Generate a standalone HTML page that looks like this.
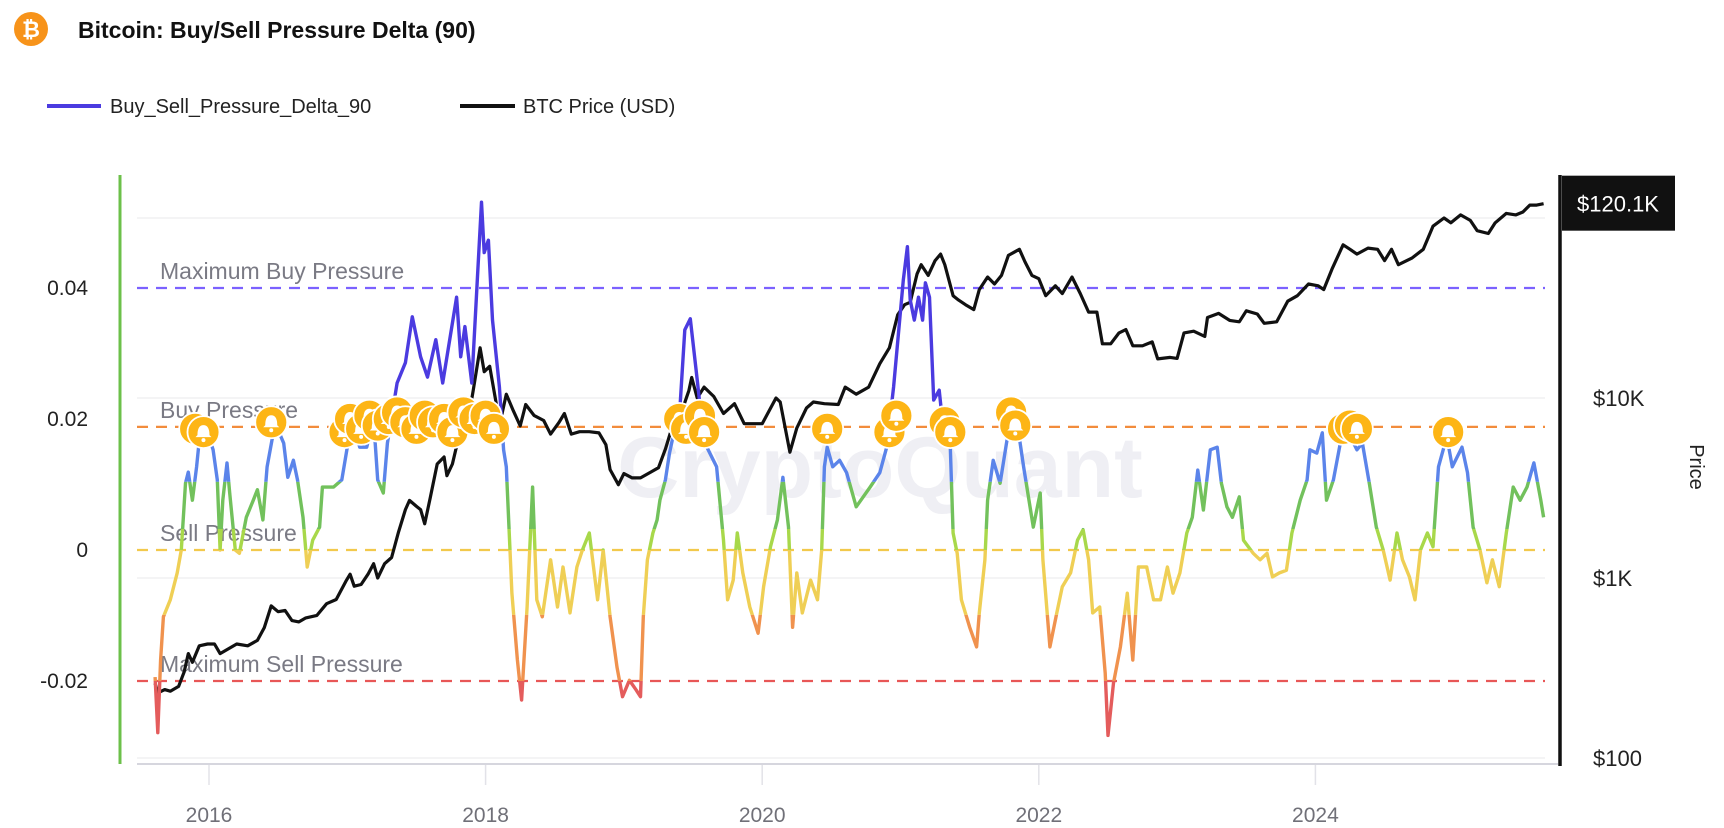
<!DOCTYPE html>
<html><head><meta charset="utf-8">
<style>
body{margin:0;background:#fff;width:1724px;height:828px;overflow:hidden;font-family:"Liberation Sans",sans-serif}
svg{display:block}
</style></head>
<body>
<svg id="chart" width="1724" height="828" viewBox="0 0 1724 828" xmlns="http://www.w3.org/2000/svg">
  <g>
    <circle cx="31" cy="29" r="17" fill="#F7931A"/>
    <text x="31" y="37" text-anchor="middle" font-size="22" font-weight="bold" fill="#fff" font-family="Liberation Sans, DejaVu Sans, sans-serif">₿</text>
    <text x="78" y="38" font-size="23" font-weight="bold" fill="#111">Bitcoin: Buy/Sell Pressure Delta (90)</text>
  </g>
  <g>
    <g>
      <line x1="47" y1="106" x2="101" y2="106" stroke="#4B3BE0" stroke-width="4"/>
      <text x="110" y="113" font-size="20" fill="#222">Buy_Sell_Pressure_Delta_90</text>
    </g>
    <g>
      <line x1="460" y1="106" x2="515" y2="106" stroke="#111" stroke-width="4"/>
      <text x="523" y="113" font-size="20" fill="#222">BTC Price (USD)</text>
    </g>
  </g>
  <text x="880" y="497" text-anchor="middle" font-size="86" font-weight="bold" fill="#efeff4">CryptoQuant</text>
  <g id="grid"></g>
  <g id="refs"></g>
  <g id="series"></g>
  <g id="markers"></g>
  <g id="axes"></g>
</svg>
<script>
// ---- data ----
const deltaDates = [2015.61,2015.63,2015.65,2015.67,2015.72,2015.77,2015.80,2015.83,2015.85,2015.88,2015.91,2015.93,2015.99,2016.03,2016.06,2016.08,2016.10,2016.13,2016.15,2016.19,2016.22,2016.27,2016.32,2016.35,2016.39,2016.42,2016.46,2016.49,2016.54,2016.57,2016.61,2016.64,2016.68,2016.71,2016.75,2016.80,2016.82,2016.90,2016.96,2017.00,2017.04,2017.09,2017.14,2017.19,2017.22,2017.26,2017.29,2017.36,2017.42,2017.47,2017.53,2017.58,2017.64,2017.69,2017.79,2017.82,2017.85,2017.90,2017.94,2017.97,2017.99,2018.02,2018.05,2018.10,2018.13,2018.15,2018.19,2018.23,2018.26,2018.30,2018.34,2018.37,2018.41,2018.47,2018.52,2018.56,2018.61,2018.66,2018.70,2018.75,2018.81,2018.85,2018.90,2018.95,2018.99,2019.04,2019.09,2019.12,2019.14,2019.17,2019.21,2019.24,2019.26,2019.30,2019.33,2019.35,2019.40,2019.44,2019.48,2019.53,2019.57,2019.60,2019.67,2019.72,2019.75,2019.79,2019.82,2019.86,2019.91,2019.97,2020.01,2020.06,2020.11,2020.15,2020.19,2020.22,2020.25,2020.29,2020.35,2020.40,2020.43,2020.45,2020.47,2020.51,2020.56,2020.61,2020.68,2020.78,2020.85,2020.90,2020.95,2021.02,2021.05,2021.07,2021.10,2021.13,2021.16,2021.18,2021.21,2021.24,2021.28,2021.31,2021.36,2021.38,2021.41,2021.44,2021.50,2021.55,2021.57,2021.61,2021.63,2021.67,2021.72,2021.77,2021.84,2021.89,2021.96,2022.01,2022.03,2022.08,2022.13,2022.17,2022.23,2022.28,2022.32,2022.36,2022.39,2022.44,2022.48,2022.50,2022.54,2022.59,2022.64,2022.68,2022.72,2022.78,2022.83,2022.88,2022.93,2022.97,2023.02,2023.07,2023.11,2023.15,2023.19,2023.24,2023.29,2023.32,2023.36,2023.40,2023.45,2023.48,2023.55,2023.60,2023.65,2023.69,2023.74,2023.79,2023.83,2023.89,2023.94,2023.96,2024.01,2024.05,2024.08,2024.13,2024.18,2024.23,2024.30,2024.34,2024.39,2024.44,2024.49,2024.54,2024.59,2024.63,2024.68,2024.72,2024.76,2024.81,2024.85,2024.89,2024.95,2024.99,2025.06,2025.10,2025.14,2025.19,2025.24,2025.28,2025.33,2025.38,2025.43,2025.48,2025.53,2025.58,2025.63,2025.65];
const deltaValues = [-0.0194,-0.0279,-0.0168,-0.0102,-0.0076,-0.0035,0,0.0102,0.0119,0.0076,0.0127,0.0168,0.0179,0.0153,0.0107,0,0.0076,0.0133,0.0087,0,-0.0005,0.0050,0.0076,0.0092,0.0046,0.0127,0.0173,0.0188,0.0163,0.0111,0.0137,0.0107,0.0050,-0.0026,0.0015,0.0035,0.0096,0.0096,0.0107,0.0157,0.0199,0.0157,0.0157,0.0199,0.0107,0.0087,0.0163,0.0255,0.0286,0.0356,0.0295,0.0264,0.0321,0.0255,0.0386,0.0295,0.0341,0.0255,0.0412,0.0531,0.0454,0.0473,0.0351,0.0249,0.0153,0.0127,-0.0066,-0.0168,-0.0229,-0.0087,0.0096,-0.0076,-0.0102,-0.0015,-0.0087,-0.0026,-0.0096,-0.0026,0,0.0026,-0.0076,0,-0.0102,-0.0179,-0.0224,-0.0199,-0.0214,-0.0224,-0.0102,-0.0015,0.0026,0.0046,0.0076,0.0107,0.0148,0.0168,0.0199,0.0336,0.0353,0.0260,0.0183,0.0157,0.0127,0.0015,-0.0076,-0.0046,0.0026,-0.0035,-0.0087,-0.0127,-0.0056,0.0005,0.0046,0.0111,0.0035,-0.0118,-0.0035,-0.0096,-0.0046,-0.0076,0,0.0127,0.0157,0.0127,0.0137,0.0118,0.0066,0.0096,0.0118,0.0157,0.0249,0.0412,0.0463,0.0382,0.0351,0.0386,0.0351,0.0408,0.0386,0.0229,0.0244,0.0183,0.0157,0.0026,-0.0005,-0.0076,-0.0118,-0.0148,-0.0096,-0.0015,0.0076,0.0137,0.0102,0.0168,0.0199,0.0127,0.0035,0.0087,-0.0015,-0.0148,-0.0096,-0.0056,-0.0035,0.0015,0.0031,-0.0015,-0.0096,-0.0087,-0.0188,-0.0283,-0.0203,-0.0148,-0.0066,-0.0168,-0.0026,-0.0026,-0.0076,-0.0076,-0.0026,-0.0066,-0.0035,0.0026,0.0050,0.0122,0.0061,0.0153,0.0157,0.0102,0.0066,0.0050,0.0081,0.0015,-0.0005,-0.0015,-0.0005,-0.0041,-0.0035,-0.0031,0.0026,0.0076,0.0107,0.0153,0.0148,0.0179,0.0076,0.0107,0.0163,0.0183,0.0153,0.0163,0.0102,0.0035,0,-0.0046,0.0026,-0.0015,-0.0041,-0.0076,0,0.0026,0.0005,0.0127,0.0173,0.0127,0.0157,0.0118,0.0035,0,-0.0050,-0.0015,-0.0056,0.0026,0.0096,0.0076,0.0096,0.0133,0.0076,0.0050];
const priceDates = [2015.61,2015.63,2015.68,2015.72,2015.78,2015.82,2015.85,2015.88,2015.93,2015.99,2016.04,2016.08,2016.13,2016.2,2016.28,2016.35,2016.4,2016.45,2016.5,2016.55,2016.6,2016.65,2016.7,2016.78,2016.85,2016.92,2016.99,2017.02,2017.05,2017.1,2017.15,2017.19,2017.22,2017.27,2017.32,2017.37,2017.42,2017.45,2017.5,2017.53,2017.56,2017.6,2017.65,2017.7,2017.72,2017.76,2017.8,2017.84,2017.88,2017.91,2017.96,2017.99,2018.03,2018.08,2018.1,2018.15,2018.2,2018.25,2018.29,2018.35,2018.42,2018.47,2018.53,2018.57,2018.62,2018.68,2018.75,2018.82,2018.87,2018.9,2018.96,2019.0,2019.06,2019.12,2019.2,2019.25,2019.3,2019.37,2019.42,2019.47,2019.49,2019.53,2019.58,2019.65,2019.72,2019.8,2019.87,2019.95,2020.0,2020.1,2020.13,2020.2,2020.25,2020.32,2020.37,2020.45,2020.55,2020.6,2020.68,2020.77,2020.85,2020.92,2020.98,2021.03,2021.07,2021.12,2021.15,2021.2,2021.25,2021.29,2021.32,2021.38,2021.42,2021.47,2021.53,2021.57,2021.63,2021.68,2021.73,2021.78,2021.86,2021.9,2021.95,2022.0,2022.05,2022.12,2022.17,2022.24,2022.3,2022.36,2022.42,2022.46,2022.52,2022.58,2022.63,2022.68,2022.75,2022.82,2022.86,2022.95,2023.0,2023.05,2023.12,2023.2,2023.22,2023.3,2023.38,2023.45,2023.5,2023.58,2023.63,2023.72,2023.8,2023.87,2023.95,2024.02,2024.06,2024.12,2024.2,2024.25,2024.3,2024.38,2024.45,2024.5,2024.55,2024.6,2024.7,2024.78,2024.85,2024.93,2024.98,2025.05,2025.12,2025.17,2025.25,2025.3,2025.38,2025.45,2025.5,2025.55,2025.6,2025.65];
const priceValues = [260,230,240,235,250,300,380,340,420,430,430,380,400,430,420,450,530,700,650,660,580,570,600,620,720,760,960,1050,900,920,1050,1200,1000,1200,1300,1800,2400,2700,2500,2400,2000,2800,4300,4700,3700,4300,5800,7100,8000,11000,19000,14000,15000,9000,7000,10500,8500,7000,9200,8000,7500,6300,7300,8200,6300,6500,6500,6400,5500,4000,3300,3800,3600,3600,3900,4100,5200,7800,8500,11000,13000,10000,11500,10200,8200,9300,7200,7200,7200,10000,9500,5000,6800,8800,9500,9300,9200,11500,10500,11500,15500,19000,29000,33000,34000,49000,55000,48000,58000,63000,55000,37000,35000,33000,31000,40000,47000,43000,48000,62000,67000,57000,48000,46000,37000,42000,38000,47000,38000,30000,30000,20000,20000,23000,24000,19500,19500,20500,16500,16800,16600,23000,23500,22000,28000,29500,27000,26500,30500,29300,26000,26500,34500,37000,43000,42000,40000,52000,71000,67000,63000,68000,67000,58000,67000,55000,60000,67000,90000,100000,94000,104000,97000,85000,82000,94000,106000,104000,108000,118000,118000,120100];
const signalDates = [2015.90,2015.96,2016.45,2016.98,2017.02,2017.10,2017.16,2017.22,2017.30,2017.36,2017.42,2017.50,2017.56,2017.62,2017.70,2017.76,2017.84,2017.92,2018.00,2018.06,2019.40,2019.45,2019.55,2019.58,2020.47,2020.92,2020.97,2021.32,2021.36,2021.80,2021.83,2024.20,2024.25,2024.30,2024.96];
const signalValues = [0.0185,0.0180,0.0195,0.0180,0.0200,0.0185,0.0205,0.0190,0.0200,0.0210,0.0195,0.0185,0.0205,0.0195,0.0200,0.0180,0.0210,0.0200,0.0205,0.0185,0.0200,0.0185,0.0205,0.0180,0.0185,0.0180,0.0205,0.0195,0.0180,0.0210,0.0190,0.0185,0.0190,0.0185,0.0180];
const yTickValues = [0.04,0.02,0,-0.02];
const yTickLabels = ["0.04","0.02","0","-0.02"];
const priceTickValues = [100000,10000,1000,100];
const priceTickLabels = ["","$10K","$1K","$100"];
const xTickYears = [2016,2018,2020,2022,2024];
const refValues = [0.04,0.0188,0,-0.02];
const refLabels = ["Maximum Buy Pressure","Buy Pressure","Sell Pressure","Maximum Sell Pressure"];
const lastPriceLabel = "$120.1K";

// ---- scales ----
const NS="http://www.w3.org/2000/svg";
const X0=137, X1=1545;
function xS(t){return 209+(t-2016)*138.3;}
function yL(v){return 550-v*6550;}
function yR(p){return 398-(Math.log10(p)-4)*180;}
function mk(tag,attrs,parent){const e=document.createElementNS(NS,tag);for(const k in attrs)e.setAttribute(k,attrs[k]);parent.appendChild(e);return e;}

const svg=document.getElementById('chart');
const grid=document.getElementById('grid');
const refs=document.getElementById('refs');
const series=document.getElementById('series');
const markers=document.getElementById('markers');
const axes=document.getElementById('axes');

priceTickValues.forEach((p)=>{
  const y=yR(p);
  if(y>764)return;
  const g=mk('line',{x1:X0,x2:X1,y1:y,y2:y,stroke:'#f0f0f2','stroke-width':1.5},grid);
  
  
});

const refColors=['#7B61FF','#F28C3C','#F2C94C','#E85757'];
refValues.forEach((v,i)=>{
  const y=yL(v);
  const l=mk('line',{x1:X0,x2:X1,y1:y,y2:y,stroke:refColors[i],'stroke-width':2.2,'stroke-dasharray':'11 8'},refs);
  
  
  const t=mk('text',{x:160,y:y-9,'font-size':23,fill:'#7a7a84'},refs);
  t.textContent=refLabels[i];
  
  
});

let pd='';
priceDates.forEach((t,i)=>{pd+=(i?'L':'M')+xS(t).toFixed(1)+' '+yR(priceValues[i]).toFixed(1);});
const priceLine=mk('path',{d:pd,fill:'none',stroke:'#111','stroke-width':3.2,'stroke-linejoin':'round'},series);



let dd='';
deltaDates.forEach((t,i)=>{dd+=(i?'L':'M')+xS(t).toFixed(1)+' '+yL(deltaValues[i]).toFixed(1);});
const bands=[[1,0.0188,'#4B3BE0'],[0.0188,0.0104,'#5B84EA'],[0.0104,0.0032,'#72C15C'],[0.0032,0,'#A8D84A'],[0,-0.0099,'#EFCF55'],[-0.0099,-0.02,'#F0924E'],[-0.02,-1,'#E45C5C']];
const defs=mk('defs',{},svg);
bands.forEach((b,i)=>{
  const top=Math.max(0,yL(b[0])), bot=Math.min(828,yL(b[1]));
  const cp=mk('clipPath',{id:'band'+i},defs);
  mk('rect',{x:0,y:top,width:1724,height:bot-top},cp);
  const p=mk('path',{d:dd,fill:'none',stroke:b[2],'stroke-width':3.4,'stroke-linejoin':'round','clip-path':'url(#band'+i+')'},series);
  
  
});

signalDates.forEach((t,i)=>{
  const cx=xS(t), cy=yL(signalValues[i]);
  const g=mk('g',{},markers);
  
  
  mk('circle',{cx:cx,cy:cy,r:16,fill:'#FDB515',stroke:'#fff','stroke-width':1.8},g);
  mk('path',{d:`M${cx-6} ${cy+3} Q${cx-6} ${cy-7} ${cx} ${cy-7} Q${cx+6} ${cy-7} ${cx+6} ${cy+3} L${cx+8} ${cy+5} L${cx-8} ${cy+5} Z`,fill:'#fff'},g);
  mk('circle',{cx:cx,cy:cy+8,r:2,fill:'#fff'},g);
});

const la=mk('line',{x1:120,x2:120,y1:175,y2:764,stroke:'#6CC04A','stroke-width':3},axes);


const ra=mk('line',{x1:1560,x2:1560,y1:175,y2:766,stroke:'#111','stroke-width':3.5},axes);


const xa=mk('line',{x1:X0,x2:1558,y1:764,y2:764,stroke:'#d6d6de','stroke-width':2},axes);


xTickYears.forEach((yr)=>{
  const x=xS(yr);
  const tk=mk('line',{x1:x,x2:x,y1:765,y2:785,stroke:'#e2e2e8','stroke-width':1.5},axes);
  
  
  const t=mk('text',{x:x,y:822,'text-anchor':'middle','font-size':21,fill:'#707078'},axes);
  t.textContent=String(yr);
  
  
});
yTickValues.forEach((v,i)=>{
  const t=mk('text',{x:88,y:yL(v)+7,'text-anchor':'end','font-size':21,fill:'#222'},axes);
  t.textContent=yTickLabels[i];
  
  
});
priceTickValues.forEach((p,i)=>{
  if(!priceTickLabels[i])return;
  const t=mk('text',{x:1593,y:yR(p)+8,'font-size':22,fill:'#222'},axes);
  t.textContent=priceTickLabels[i];
  
  
});
const lastP=priceValues[priceValues.length-1];
const by=yR(lastP);
const box=mk('rect',{x:1562,y:by-28,width:113,height:55,fill:'#111'},axes);


const bt=mk('text',{x:1618,y:by+8,'text-anchor':'middle','font-size':22,fill:'#fff'},axes);
bt.textContent=lastPriceLabel;


const pt=mk('text',{x:1690,y:467,'text-anchor':'middle','font-size':20,fill:'#222',transform:'rotate(90 1690 467)'},axes);
pt.textContent='Price';


</script>
</body></html>
